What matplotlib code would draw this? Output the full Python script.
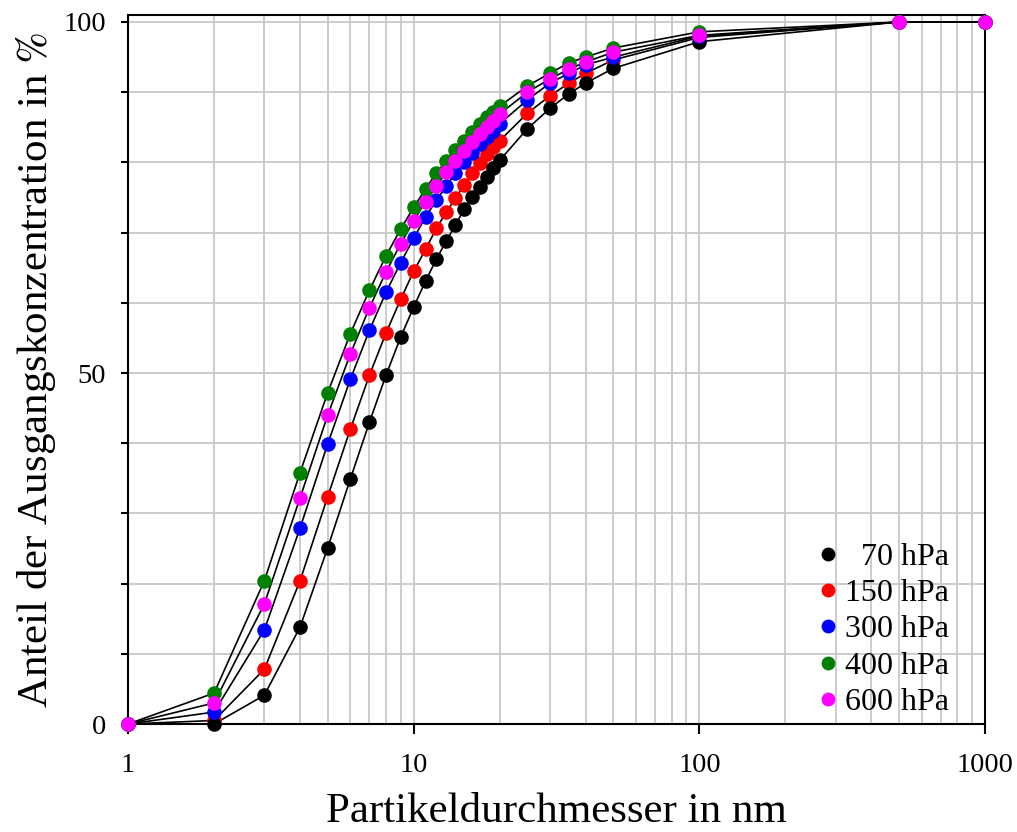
import matplotlib
matplotlib.use("Agg")
import matplotlib.pyplot as plt
from matplotlib.ticker import FixedLocator, MultipleLocator

plt.rcParams['font.family'] = ['Liberation Serif', 'DejaVu Serif']
plt.rcParams['mathtext.fontset'] = 'stix'

# Partikeldurchmesser (nm)
durchmesser = [1, 2, 3, 4, 5, 6, 7, 8, 9, 10, 11, 12, 13, 14, 15, 16, 17, 18, 19, 20,
               25, 30, 35, 40, 50, 100, 500, 1000]

# Anteil der Ausgangskonzentration (%) je Druck
p70 = [0, 0, 4.1, 13.8, 25.1, 34.9, 43.0, 49.7, 55.1, 59.4, 63.1, 66.2, 68.8, 71.1, 73.3,
       75.0, 76.5, 77.9, 79.2, 80.3, 84.8, 87.7, 89.8, 91.3, 93.4, 97.2, 100, 100]
p150 = [0, 0.5, 7.8, 20.4, 32.4, 42.0, 49.7, 55.7, 60.5, 64.5, 67.6, 70.6, 72.9, 74.9, 76.8,
        78.5, 79.9, 81.2, 82.2, 83.1, 87.0, 89.5, 91.3, 92.7, 94.6, 97.8, 100, 100]
p300 = [0, 1.7, 13.4, 27.9, 39.9, 49.1, 56.1, 61.5, 65.7, 69.2, 72.2, 74.6, 76.6, 78.5, 80.0,
        81.3, 82.6, 83.6, 84.5, 85.5, 88.9, 91.3, 92.7, 93.9, 95.0, 98.0, 100, 100]
p400 = [0, 4.4, 20.4, 35.8, 47.2, 55.6, 61.8, 66.7, 70.5, 73.6, 76.2, 78.5, 80.2, 81.8, 83.1,
        84.3, 85.5, 86.5, 87.2, 88.0, 90.9, 92.7, 94.2, 95.0, 96.3, 98.6, 100, 100]
p600 = [0, 3.0, 17.1, 32.2, 44.0, 52.7, 59.3, 64.4, 68.4, 71.7, 74.4, 76.6, 78.6, 80.2, 81.6,
        82.9, 84.0, 85.0, 85.9, 86.9, 90.0, 91.9, 93.3, 94.3, 95.7, 98.1, 100, 100]

reihen = [
    (p70, 'black', '\u200770 hPa', 4),
    (p150, 'red', '150 hPa', 3),
    (p300, 'blue', '300 hPa', 5),
    (p400, 'green', '400 hPa', 6),
    (p600, 'magenta', '600 hPa', 7),
]

fig = plt.figure(figsize=(10.17, 8.32), dpi=100)
ax = fig.add_axes([0.1259, 0.1298, 0.8427, 0.8522])

for werte, farbe, name, z in reihen:
    ax.plot(durchmesser, werte, color='black', linewidth=1.2, zorder=2, clip_on=False)
    ax.plot(durchmesser, werte, linestyle='none', marker='o', markersize=10.5,
            color=farbe, markeredgewidth=0, label=name, zorder=z, clip_on=False)

ax.set_xscale('log')
ax.set_xlim(1, 1000)
ax.set_ylim(0, 101)

ax.xaxis.set_major_locator(FixedLocator([1, 10, 100, 1000]))
ax.set_xticklabels(['1', '10', '100', '1000'])
ax.xaxis.set_minor_locator(FixedLocator([m * 10 ** e for e in range(3) for m in range(2, 10)]))
ax.xaxis.set_minor_formatter(plt.NullFormatter())
ax.yaxis.set_major_locator(FixedLocator([0, 50, 100]))
ax.yaxis.set_minor_locator(MultipleLocator(10))

ax.tick_params(axis='x', which='major', direction='out', length=7, width=1.5, pad=14, labelsize=20.5)
ax.tick_params(axis='x', which='minor', length=0)
ax.tick_params(axis='y', which='both', direction='out', length=5, width=1.5, pad=11, labelsize=20.5)

ax.grid(True, which='both', color='#c8c8c8', linewidth=1.3, zorder=0)
ax.set_axisbelow(True)
for s in ax.spines.values():
    s.set_linewidth(1.5)

ax.set_xlabel('Partikeldurchmesser in nm', fontsize=31, labelpad=10)
ax.set_ylabel(r'Anteil der Ausgangskonzentration in $\mathit{\%}$', fontsize=31, labelpad=4)

ax.legend(loc='lower right', bbox_to_anchor=(0.977, -0.013), frameon=False, fontsize=23,
          handletextpad=0.05, labelspacing=0.22, borderpad=0, handlelength=1.0, markerscale=0.95)

fig.savefig('out.png', dpi=100)
